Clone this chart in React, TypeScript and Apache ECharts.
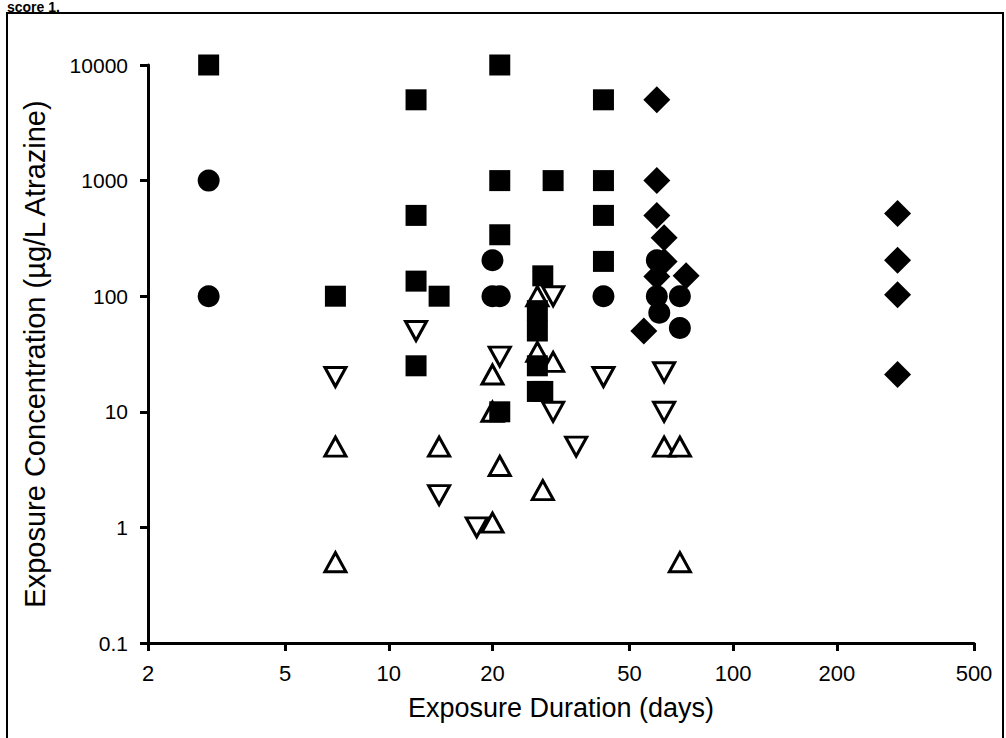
import React, { useEffect, useRef } from 'react';
import * as echarts from 'echarts';

// Tick labels
const xTickValues = [2, 5, 10, 20, 50, 100, 200, 500];
const yTickValues = [0.1, 1, 10, 100, 1000, 10000];

// Filled squares
const squareDays = [3, 21, 12, 42, 21, 30, 42, 12, 42, 21, 42, 28, 12, 7, 14, 27, 27, 12, 27, 27, 28, 21];
const squareConc = [10000, 10000, 5000, 5000, 1000, 1000, 1000, 500, 500, 340, 200, 150, 135, 100, 100, 75, 50, 25, 25, 15, 15, 10];

// Filled circles
const circleDays = [3, 3, 20, 20, 21, 42, 60, 60, 70, 61, 70];
const circleConc = [1000, 100, 205, 100, 100, 100, 205, 100, 100, 72, 53];

// Filled diamonds
const diamondDays = [60, 60, 60, 63, 63, 60, 73, 55, 300, 300, 300, 300];
const diamondConc = [5000, 1000, 500, 320, 200, 148, 150, 50, 520, 205, 103, 21];

// Open down-pointing triangles
const downDays = [7, 12, 14, 18, 21, 30, 30, 35, 42, 63, 63];
const downConc = [20, 50, 1.9, 1, 30, 100, 10, 5, 20, 22, 10];

// Open up-pointing triangles
const upDays = [7, 7, 14, 20, 20, 20, 21, 27, 27, 30, 28, 63, 70, 70];
const upConc = [5, 0.5, 5, 1.1, 21, 10, 3.4, 100, 33, 27, 2.1, 5, 5, 0.5];

const pairs = (xs: number[], ys: number[]) => xs.map((x, i) => [x, ys[i]]);

export default function App() {
  const ref = useRef<HTMLDivElement>(null);
  useEffect(() => {
    const chart = echarts.init(ref.current!, null, { renderer: 'svg' });
    const font = "'Liberation Sans', Arial, Helvetica, sans-serif";
    const openStyle = { color: '#fff', borderColor: '#000', borderWidth: 3, opacity: 1 };
    const solidStyle = { color: '#000', opacity: 1 };
    chart.setOption({
      animation: false,
      backgroundColor: '#fff',
      textStyle: { fontFamily: font, color: '#000' },
      grid: { left: 148, right: 32, top: 65, bottom: 95, containLabel: false },
      xAxis: [
        {
          type: 'log',
          logBase: 10,
          min: 2,
          max: 500,
          axisLine: { show: true, lineStyle: { color: '#000', width: 3 } },
          axisTick: { show: false },
          axisLabel: { show: false },
          splitLine: { show: false },
          minorTick: { show: false },
        },
        {
          type: 'value',
          min: Math.log10(2),
          max: Math.log10(500),
          position: 'bottom',
          axisLine: { show: false },
          axisTick: {
            show: true,
            length: 8,
            lineStyle: { color: '#000', width: 3 },
            customValues: xTickValues.map((v) => Math.log10(v)),
          },
          axisLabel: {
            customValues: xTickValues.map((v) => Math.log10(v)),
            formatter: (v: number) => String(Math.round(Math.pow(10, v))),
            fontSize: 22,
            color: '#000',
            fontFamily: font,
            margin: 19,
          },
          splitLine: { show: false },
          name: 'Exposure Duration (days)',
          nameLocation: 'middle',
          nameGap: 51,
          nameTextStyle: { fontSize: 27, color: '#000', fontFamily: font },
        },
      ],
      yAxis: {
        type: 'log',
        logBase: 10,
        min: yTickValues[0],
        max: yTickValues[yTickValues.length - 1],
        axisLine: { show: true, lineStyle: { color: '#000', width: 3 } },
        axisTick: { show: true, length: 8, lineStyle: { color: '#000', width: 3 } },
        axisLabel: {
          fontSize: 21,
          color: '#000',
          fontFamily: font,
          margin: 20,
          formatter: (v: number) => String(Number(v.toPrecision(6))),
        },
        splitLine: { show: false },
        minorTick: { show: false },
        name: 'Exposure Concentration (µg/L Atrazine)',
        nameLocation: 'middle',
        nameGap: 99,
        nameTextStyle: { fontSize: 29, color: '#000', fontFamily: font },
      },
      series: [
        {
          type: 'scatter',
          name: 'up',
          data: pairs(upDays, upConc),
          symbol: 'triangle',
          symbolSize: [21, 19],
          itemStyle: openStyle,
          emphasis: { disabled: true },
        },
        {
          type: 'scatter',
          name: 'down',
          data: pairs(downDays, downConc),
          symbol: 'triangle',
          symbolRotate: 180,
          symbolSize: [21, 19],
          itemStyle: openStyle,
          emphasis: { disabled: true },
        },
        {
          type: 'scatter',
          name: 'diamond',
          data: pairs(diamondDays, diamondConc),
          symbol: 'diamond',
          symbolSize: 27,
          itemStyle: solidStyle,
          emphasis: { disabled: true },
        },
        {
          type: 'scatter',
          name: 'circle',
          data: pairs(circleDays, circleConc),
          symbol: 'circle',
          symbolSize: 22,
          itemStyle: solidStyle,
          emphasis: { disabled: true },
        },
        {
          type: 'scatter',
          name: 'square',
          data: pairs(squareDays, squareConc),
          symbol: 'rect',
          symbolSize: 21,
          itemStyle: solidStyle,
          emphasis: { disabled: true },
        },
      ],
      graphic: [
        {
          type: 'rect',
          shape: { x: 7, y: 13, width: 996, height: 740 },
          style: { fill: 'none', stroke: '#000', lineWidth: 2 },
          silent: true,
        },
        {
          type: 'text',
          x: 7,
          y: 0,
          style: {
            text: 'score 1.',
            font: `bold 14px ${font}`,
            fill: '#000',
            textVerticalAlign: 'top',
          },
          silent: true,
        },
      ],
    });
    return () => chart.dispose();
  }, []);
  return (
    <div
      ref={ref}
      style={{ position: 'fixed', left: 0, top: 0, width: 1006, height: 738, background: '#fff' }}
    />
  );
}
